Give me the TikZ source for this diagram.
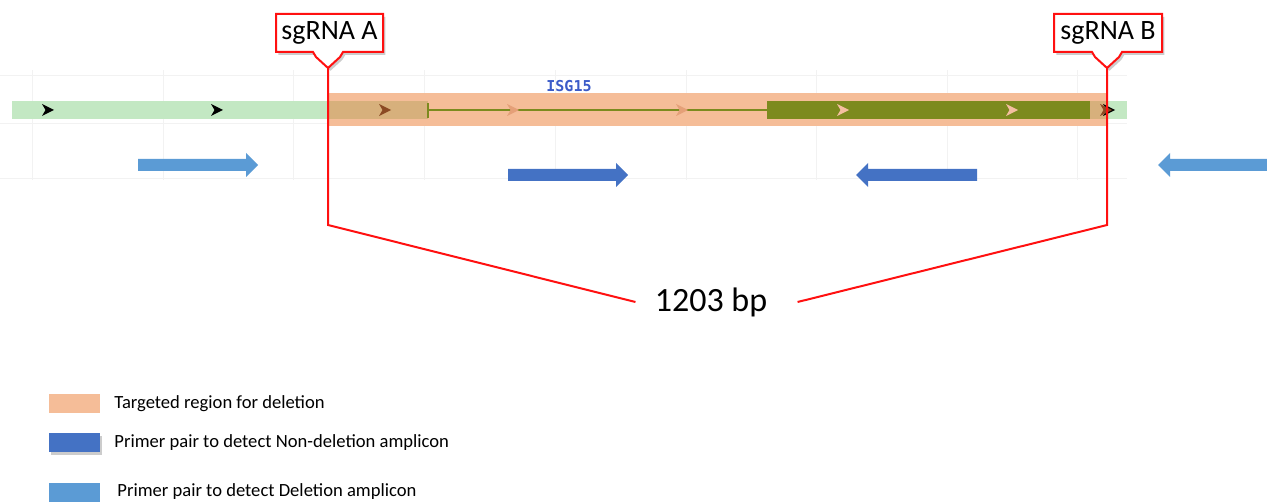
\documentclass[tikz,border=0pt]{standalone}
\usepackage{fontspec}
\setmainfont{Carlito}
\newfontfamily\isgfont{DejaVu Sans Mono}
\usetikzlibrary{shadows}
\definecolor{tgt}{HTML}{F5BD98}
\definecolor{lgreen}{HTML}{C3E8C3}
\definecolor{gtan}{HTML}{D7B07C}
\definecolor{olive}{HTML}{7C8A1E}
\definecolor{dblue}{HTML}{4472C4}
\definecolor{lblue}{HTML}{5B9BD5}
\definecolor{gridc}{HTML}{F2F2F2}
\definecolor{isg}{HTML}{3B5BC8}
\definecolor{chevpale}{HTML}{F5BFA0}
\definecolor{chevmid}{HTML}{E5A078}
\definecolor{chevbrown}{HTML}{8B4A24}
\definecolor{cred}{HTML}{FF1010}
\newcommand\chev[3]{\fill[#3] (#1-6,#2-6) -- (#1+6,#2) -- (#1-6,#2+6) -- (#1-2.5,#2) -- cycle;}
\newcommand\rarr[4]{\fill[#4] (#1,#3-6) -- (#2-12,#3-6) -- (#2-12,#3-12) -- (#2,#3) -- (#2-12,#3+12) -- (#2-12,#3+6) -- (#1,#3+6) -- cycle;}
\newcommand\larr[4]{\fill[#4] (#1,#3-6) -- (#2+12,#3-6) -- (#2+12,#3-12) -- (#2,#3) -- (#2+12,#3+12) -- (#2+12,#3+6) -- (#1,#3+6) -- cycle;}
\begin{document}
\begin{tikzpicture}[x=0.5pt,y=-0.5pt,
  shad/.style={drop shadow={opacity=0.4,shadow xshift=1.2pt,shadow yshift=-1.4pt}},
  redline/.style={draw=cred,line width=1pt},
  callout/.style={draw=cred,line width=1pt,fill=white,shad},
  cltext/.style={font=\fontsize{14}{16}\selectfont,inner sep=0pt},
  legtext/.style={font=\fontsize{9.3}{11}\selectfont,anchor=west,inner sep=0pt},
  gridline/.style={draw=gridc,line width=0.4pt}]
\useasboundingbox (0,0) rectangle (1267,502);
% grid
\foreach \x in {32,163,293,424,555,686,816,947,1077}
  \draw[gridline] (\x,70) -- (\x,180);
\foreach \y in {75,123,178}
  \draw[gridline] (0,\y) -- (1127,\y);
% gene track
\fill[lgreen] (12,101) rectangle (1127,119);
\fill[tgt] (328,93) rectangle (1107,126);
\fill[gtan] (328,101) rectangle (428,119);
\fill[gtan] (1090,101) rectangle (1107,119);
\draw[olive,line width=0.9pt] (428,110) -- (767,110);
\draw[olive,line width=0.9pt] (428,103) -- (428,118);
\fill[olive] (767,101) rectangle (1090,119);
\chev{48}{110}{black}
\chev{217}{110}{black}
\chev{385}{110}{chevbrown}
\chev{513}{110}{chevmid}
\chev{682}{110}{chevmid}
\chev{843}{110}{chevpale}
\chev{1012}{110}{chevpale}
\chev{1109}{110}{black}
\chev{1106}{110}{chevbrown}
\node[font=\isgfont\bfseries\fontsize{7.5}{9}\selectfont,text=isg,inner sep=0pt] (isg) at (569,86) {ISG15};
% primers
\begin{scope}[shad]
\rarr{138}{258}{165}{lblue}
\rarr{508}{628}{175}{dblue}
\larr{977}{856}{175}{dblue}
\larr{1267}{1158}{165}{lblue}
\end{scope}
% callouts
\coordinate (tipA) at (328,68);
\coordinate (tipB) at (1107,68);
\coordinate (kneeA) at (328,225);
\coordinate (kneeB) at (1107,225);
\draw[callout] (276,14) -- (383,14) -- (383,52) -- (343,52) -- (340,57) -- (tipA) -- (316,57) -- (313,52) -- (276,52) -- cycle;
\node[cltext] (sgA) at (329.5,33) {sgRNA A};
\draw[callout] (1054,14) -- (1162,14) -- (1162,52) -- (1122,52) -- (1119,57) -- (tipB) -- (1095,57) -- (1092,52) -- (1054,52) -- cycle;
\node[cltext] (sgB) at (1108,33) {sgRNA B};
\node[font=\fontsize{17}{20}\selectfont,inner ysep=0pt,inner xsep=9.5pt] (bp) at (711,302) {1203 bp};
\draw[redline] (tipA) -- (kneeA) -- (bp.west);
\draw[redline] (tipB) -- (kneeB) -- ([xshift=5.5pt]bp.east);
% legend
\fill[tgt] (49,394) rectangle (100,413);
\fill[dblue,shad] (49,433) rectangle (100,452);
\fill[lblue] (49,483) rectangle (100,503);
\node[legtext] (l1) at (114,403.5) {Targeted region for deletion};
\node[legtext] (l2) at (114,443) {Primer pair to detect Non-deletion amplicon};
\node[legtext] (l3) at (117,492) {Primer pair to detect Deletion amplicon};
\end{tikzpicture}
\end{document}
